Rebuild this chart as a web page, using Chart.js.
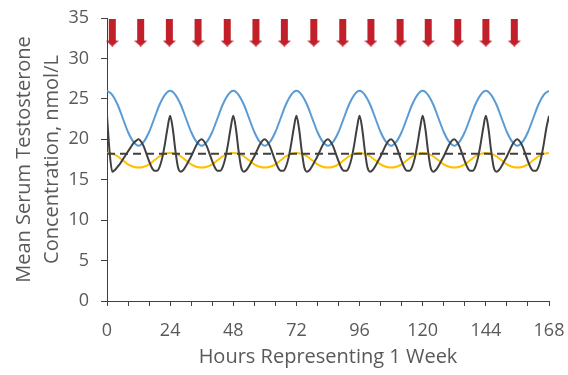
<!DOCTYPE html>
<html>
<head>
<meta charset="utf-8">
<script src="https://cdn.jsdelivr.net/npm/chart.js@4/dist/chart.umd.min.js"></script>
<style>
  body { margin: 0; background: #fff; }
  canvas { display: block; }
</style>
</head>
<body>
<canvas id="chart" width="568" height="375"></canvas>
<script>
// hourly grid for the black curve
const hours1 = [
  0, 1, 2, 3, 4, 5, 6, 7, 8, 9, 10, 11, 12, 13, 14, 15, 16, 17, 18, 19, 20, 21, 22, 23,
  24, 25, 26, 27, 28, 29, 30, 31, 32, 33, 34, 35, 36, 37, 38, 39, 40, 41, 42, 43, 44, 45, 46, 47,
  48, 49, 50, 51, 52, 53, 54, 55, 56, 57, 58, 59, 60, 61, 62, 63, 64, 65, 66, 67, 68, 69, 70, 71,
  72, 73, 74, 75, 76, 77, 78, 79, 80, 81, 82, 83, 84, 85, 86, 87, 88, 89, 90, 91, 92, 93, 94, 95,
  96, 97, 98, 99, 100, 101, 102, 103, 104, 105, 106, 107, 108, 109, 110, 111, 112, 113, 114, 115, 116, 117, 118, 119,
  120, 121, 122, 123, 124, 125, 126, 127, 128, 129, 130, 131, 132, 133, 134, 135, 136, 137, 138, 139, 140, 141, 142, 143,
  144, 145, 146, 147, 148, 149, 150, 151, 152, 153, 154, 155, 156, 157, 158, 159, 160, 161, 162, 163, 164, 165, 166, 167,
  168
];
const blackSeries = [
  22.9, 18.4, 16.0, 16.2, 16.6, 17.0, 17.5, 18.0, 18.5, 19.0, 19.5, 19.8, 20.0, 19.7, 19.1, 18.2, 17.3, 16.5, 16.1, 16.1, 16.6, 17.7, 19.4, 21.4,
  22.9, 21.3, 18.6, 16.5, 16.0, 16.2, 16.7, 17.3, 17.9, 18.6, 19.3, 19.8, 20.0, 19.7, 19.1, 18.2, 17.3, 16.5, 16.1, 16.1, 16.6, 17.7, 19.4, 21.4,
  22.9, 21.3, 18.6, 16.5, 16.0, 16.2, 16.7, 17.3, 17.9, 18.6, 19.3, 19.8, 20.0, 19.7, 19.1, 18.2, 17.3, 16.5, 16.1, 16.1, 16.6, 17.7, 19.4, 21.4,
  22.9, 21.3, 18.6, 16.5, 16.0, 16.2, 16.7, 17.3, 17.9, 18.6, 19.3, 19.8, 20.0, 19.7, 19.1, 18.2, 17.3, 16.5, 16.1, 16.1, 16.6, 17.7, 19.4, 21.4,
  22.9, 21.3, 18.6, 16.5, 16.0, 16.2, 16.7, 17.3, 17.9, 18.6, 19.3, 19.8, 20.0, 19.7, 19.1, 18.2, 17.3, 16.5, 16.1, 16.1, 16.6, 17.7, 19.4, 21.4,
  22.9, 21.3, 18.6, 16.5, 16.0, 16.2, 16.7, 17.3, 17.9, 18.6, 19.3, 19.8, 20.0, 19.7, 19.1, 18.2, 17.3, 16.5, 16.1, 16.1, 16.6, 17.7, 19.4, 21.4,
  22.9, 21.3, 18.6, 16.5, 16.0, 16.2, 16.7, 17.3, 17.9, 18.6, 19.3, 19.8, 20.0, 19.7, 19.1, 18.2, 17.3, 16.5, 16.1, 16.1, 16.6, 17.7, 19.4, 21.4,
  22.9
];

// 2-hour grid for the blue and yellow curves
const hours2 = [
  0, 2, 4, 6, 8, 10, 12, 14, 16, 18, 20, 22,
  24, 26, 28, 30, 32, 34, 36, 38, 40, 42, 44, 46,
  48, 50, 52, 54, 56, 58, 60, 62, 64, 66, 68, 70,
  72, 74, 76, 78, 80, 82, 84, 86, 88, 90, 92, 94,
  96, 98, 100, 102, 104, 106, 108, 110, 112, 114, 116, 118,
  120, 122, 124, 126, 128, 130, 132, 134, 136, 138, 140, 142,
  144, 146, 148, 150, 152, 154, 156, 158, 160, 162, 164, 166,
  168
];
const blueSeries = [
  26.0, 25.5, 24.3, 22.6, 20.9, 19.7, 19.2, 19.7, 20.9, 22.6, 24.3, 25.5,
  26.0, 25.5, 24.3, 22.6, 20.9, 19.7, 19.2, 19.7, 20.9, 22.6, 24.3, 25.5,
  26.0, 25.5, 24.3, 22.6, 20.9, 19.7, 19.2, 19.7, 20.9, 22.6, 24.3, 25.5,
  26.0, 25.5, 24.3, 22.6, 20.9, 19.7, 19.2, 19.7, 20.9, 22.6, 24.3, 25.5,
  26.0, 25.5, 24.3, 22.6, 20.9, 19.7, 19.2, 19.7, 20.9, 22.6, 24.3, 25.5,
  26.0, 25.5, 24.3, 22.6, 20.9, 19.7, 19.2, 19.7, 20.9, 22.6, 24.3, 25.5,
  26.0, 25.5, 24.3, 22.6, 20.9, 19.7, 19.2, 19.7, 20.9, 22.6, 24.3, 25.5,
  26.0
];
const yellowSeries = [
  18.3, 18.2, 17.9, 17.4, 16.9, 16.6, 16.5, 16.6, 16.9, 17.4, 17.9, 18.2,
  18.3, 18.2, 17.9, 17.4, 16.9, 16.6, 16.5, 16.6, 16.9, 17.4, 17.9, 18.2,
  18.3, 18.2, 17.9, 17.4, 16.9, 16.6, 16.5, 16.6, 16.9, 17.4, 17.9, 18.2,
  18.3, 18.2, 17.9, 17.4, 16.9, 16.6, 16.5, 16.6, 16.9, 17.4, 17.9, 18.2,
  18.3, 18.2, 17.9, 17.4, 16.9, 16.6, 16.5, 16.6, 16.9, 17.4, 17.9, 18.2,
  18.3, 18.2, 17.9, 17.4, 16.9, 16.6, 16.5, 16.6, 16.9, 17.4, 17.9, 18.2,
  18.3, 18.2, 17.9, 17.4, 16.9, 16.6, 16.5, 16.6, 16.9, 17.4, 17.9, 18.2,
  18.3
];

// dashed reference level
const refHours = [0, 168];
const refLevel = [18.2, 18.2];

// dose arrows along the top
const doseHours = [2.0, 12.8, 23.7, 34.6, 45.7, 56.6, 67.4, 78.6, 89.6, 100.3, 111.4, 122.1, 133.3, 144.0, 154.8];
const doseLevel = [33.2, 33.2, 33.2, 33.2, 33.2, 33.2, 33.2, 33.2, 33.2, 33.2, 33.2, 33.2, 33.2, 33.2, 33.2];

const yTicks = [0, 5, 10, 15, 20, 25, 30, 35];
const xLabelHours = [0, 24, 48, 72, 96, 120, 144, 168];

const toPoints = (xs, ys) => xs.map((x, i) => ({ x: x, y: ys[i] }));

// red down arrow used as point style
const arrow = document.createElement('canvas');
arrow.width = 13;
arrow.height = 28;
const actx = arrow.getContext('2d');
actx.fillStyle = '#c1202a';
actx.fillRect(3, 0, 7, 22);
actx.beginPath();
actx.moveTo(0, 22);
actx.lineTo(13, 22);
actx.lineTo(6.5, 28);
actx.closePath();
actx.fill();

const axisColor = '#404040';
const textColor = '#595959';
const fontFamily = '"Open Sans", sans-serif';

new Chart(document.getElementById('chart'), {
  type: 'line',
  data: {
    datasets: [
      {
        data: toPoints(doseHours, doseLevel),
        showLine: false,
        pointStyle: arrow,
        pointRadius: 6,
        clip: false
      },
      {
        data: toPoints(hours1, blackSeries),
        borderColor: '#404040',
        borderWidth: 2,
        pointRadius: 0,
        cubicInterpolationMode: 'monotone'
      },
      {
        data: toPoints(refHours, refLevel),
        borderColor: '#404040',
        borderWidth: 2,
        borderDash: [8, 5],
        pointRadius: 0
      },
      {
        data: toPoints(hours2, yellowSeries),
        borderColor: '#ffc000',
        borderWidth: 2,
        pointRadius: 0,
        cubicInterpolationMode: 'monotone'
      },
      {
        data: toPoints(hours2, blueSeries),
        borderColor: '#5b9bd5',
        borderWidth: 2,
        pointRadius: 0,
        cubicInterpolationMode: 'monotone'
      }
    ]
  },
  options: {
    responsive: false,
    animation: false,
    layout: { padding: { top: 18, right: 19, bottom: 0, left: 0 } },
    plugins: {
      legend: { display: false },
      tooltip: { enabled: false }
    },
    scales: {
      x: {
        type: 'linear',
        min: 0,
        max: 168,
        afterFit: scale => {
          scale.height = 74;
          scale.paddingLeft = 0;
          scale.paddingRight = 0;
        },
        ticks: {
          stepSize: 8,
          autoSkip: false,
          maxRotation: 0,
          padding: 14,
          color: textColor,
          font: { family: fontFamily, size: 18 },
          callback: v => (xLabelHours.includes(v) ? String(v) : '')
        },
        grid: { drawOnChartArea: false, tickLength: 5, color: axisColor, lineWidth: 1 },
        border: { color: axisColor, width: 1 },
        title: {
          display: true,
          text: 'Hours Representing 1 Week',
          color: textColor,
          font: { family: fontFamily, size: 20 },
          padding: { top: 0, bottom: 6 }
        }
      },
      y: {
        min: 0,
        max: 35,
        afterFit: scale => {
          scale.width = 107;
          scale.paddingTop = 0;
          scale.paddingBottom = 0;
        },
        afterBuildTicks: scale => { scale.ticks = yTicks.map(v => ({ value: v })); },
        ticks: {
          padding: 12,
          color: textColor,
          font: { family: fontFamily, size: 18 }
        },
        grid: { drawOnChartArea: false, tickLength: 6, color: axisColor, lineWidth: 1 },
        border: { color: axisColor, width: 1 },
        title: {
          display: true,
          text: ['Mean Serum Testosterone', 'Concentration, nmol/L'],
          color: textColor,
          font: { family: fontFamily, size: 20, lineHeight: 1.4 },
          padding: { top: 10, bottom: 0 }
        }
      }
    }
  }
});
</script>
</body>
</html>
